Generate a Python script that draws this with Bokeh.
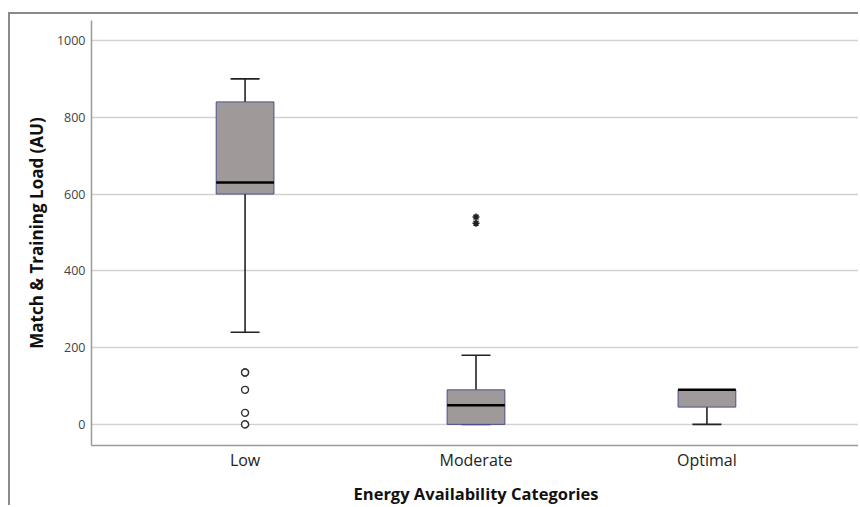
from bokeh.plotting import figure
from bokeh.models import ColumnDataSource, FixedTicker, Whisker, TeeHead, FactorRange
from bokeh.transform import dodge
from bokeh.embed import file_html
from bokeh.resources import INLINE

categories = ["Low", "Moderate", "Optimal"]
q1 = [600, 0, 45]
median = [630, 50, 90]
q3 = [840, 90, 90]
lower = [240, 0, 0]
upper = [900, 180, 90]
outlier_cat = ["Low", "Low", "Low", "Low", "Low", "Low"]
outlier_val = [135, 135, 90, 30, 0, 0]
extreme_cat = ["Moderate", "Moderate"]
extreme_val = [540, 524]
y_ticks = [0, 200, 400, 600, 800, 1000]

FONT = "Open Sans"

src = ColumnDataSource(dict(cat=categories, q1=q1, med=median, q3=q3, lo=lower, up=upper))

p = figure(width=850, height=493, output_backend="svg", toolbar_location=None,
           x_range=FactorRange(*categories, range_padding=0.11), y_range=(-55, 1052),
           min_border_left=81, min_border_right=0, min_border_top=6, min_border_bottom=58)
p.styles = {"border-top": "2px solid #8a8a8a", "border-left": "2px solid #8a8a8a",
            "margin-top": "12px", "margin-left": "8px"}
p.outline_line_color = None

# whiskers
p.add_layout(Whisker(source=src, base="cat", upper="up", lower="q3", dimension="height",
                     line_color="#222222", line_width=1.6,
                     upper_head=TeeHead(size=29, line_color="#222222", line_width=1.6),
                     lower_head=None))
p.add_layout(Whisker(source=src, base="cat", upper="q1", lower="lo", dimension="height",
                     line_color="#222222", line_width=1.6,
                     lower_head=TeeHead(size=29, line_color="#222222", line_width=1.6),
                     upper_head=None))

p.vbar(x="cat", top="q3", bottom="q1", width=0.25, source=src,
       fill_color="#9f9999", line_color="#4b4f8c", line_width=1)
p.segment(x0=dodge("cat", -0.125, range=p.x_range), x1=dodge("cat", 0.125, range=p.x_range),
          y0="med", y1="med", source=src, line_color="black", line_width=2.5)

p.scatter(outlier_cat, outlier_val, marker="circle", size=7, fill_color="white",
          line_color="#333333", line_width=1.4)
p.scatter(extreme_cat, extreme_val, marker="asterisk", size=7, line_color="#222222", line_width=1.6)

p.xgrid.grid_line_color = None
p.ygrid.grid_line_color = "#d2d2d2"
p.ygrid.grid_line_width = 1.5
p.yaxis.ticker = FixedTicker(ticks=y_ticks)

for ax in (p.xaxis[0], p.yaxis[0]):
    ax.axis_line_color = "#9a9a9a"
    ax.axis_line_width = 1.5
    ax.major_tick_line_color = None
    ax.minor_tick_line_color = None
    ax.major_tick_out = 0
    ax.major_tick_in = 0
    ax.axis_label_text_font = FONT
    ax.axis_label_text_font_style = "bold"
    ax.axis_label_text_color = "#111111"
    ax.major_label_text_font = FONT

p.yaxis.axis_label = "Match & Training Load (AU)"
p.yaxis.axis_label_text_font_size = "17px"
p.yaxis.major_label_text_font_size = "12.5px"
p.yaxis.major_label_text_color = "#444444"
p.yaxis.major_label_standoff = 6
p.yaxis.axis_label_standoff = 6

p.xaxis.axis_label = "Energy Availability Categories"
p.xaxis.axis_label_text_font_size = "16.5px"
p.xaxis.major_label_text_font_size = "16px"
p.xaxis.major_label_text_color = "#222222"
p.xaxis.major_label_standoff = 3
p.xaxis.axis_label_standoff = 8

open("out.html", "w").write(file_html(p, INLINE))
